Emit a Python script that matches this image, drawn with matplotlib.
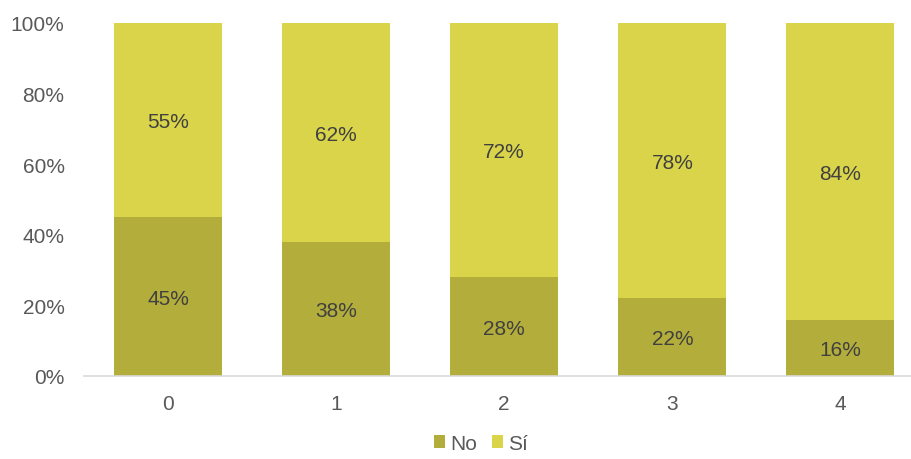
import numpy as np
import matplotlib.pyplot as plt

plt.rcParams['font.family'] = ['Liberation Sans', 'DejaVu Sans']

categories = ['0', '1', '2', '3', '4']
no_vals = [45, 38, 28, 22, 16]
si_vals = [55, 62, 72, 78, 84]
labels = ['No', 'Sí']
colors = ['#B3AD3B', '#D9D44A']

fig = plt.figure(figsize=(9.11, 4.60), dpi=100)
ax = fig.add_axes([84/911, 83/460, 827/911, 353/460])

x = np.arange(len(categories))
w = 0.643
ax.bar(x, no_vals, w, color=colors[0], label=labels[0])
ax.bar(x, si_vals, w, bottom=no_vals, color=colors[1], label=labels[1])

# etiquetas dentro de cada segmento
for i in range(len(categories)):
    ax.text(x[i], no_vals[i] / 2 - 0.5, f'{no_vals[i]}%', ha='center', va='center',
            fontsize=15, color='#404040')
    ax.text(x[i], no_vals[i] + si_vals[i] / 2 - 0.5, f'{si_vals[i]}%', ha='center', va='center',
            fontsize=15, color='#404040')

ax.set_xlim(-0.5, 4.42)
ax.set_ylim(0, 100)
ax.set_yticks(range(0, 101, 20))
ax.set_yticklabels([f'{v}%' for v in range(0, 101, 20)])
ax.set_xticks(x)
ax.set_xticklabels(categories)
ax.tick_params(axis='both', length=0, labelsize=15, colors='#595959')
ax.tick_params(axis='x', pad=13)
ax.tick_params(axis='y', pad=14)
for s in ['top', 'right', 'left']:
    ax.spines[s].set_visible(False)
ax.spines['bottom'].set_color('#D9D9D9')
ax.spines['bottom'].set_linewidth(1.2)

fig.legend(loc='lower center', bbox_to_anchor=(0.528, -0.028), ncol=2, frameon=False,
           fontsize=15, handlelength=0.55, handleheight=0.55, handletextpad=0.25,
           columnspacing=0.7, labelcolor='#595959')

fig.savefig('out.png', dpi=100)
